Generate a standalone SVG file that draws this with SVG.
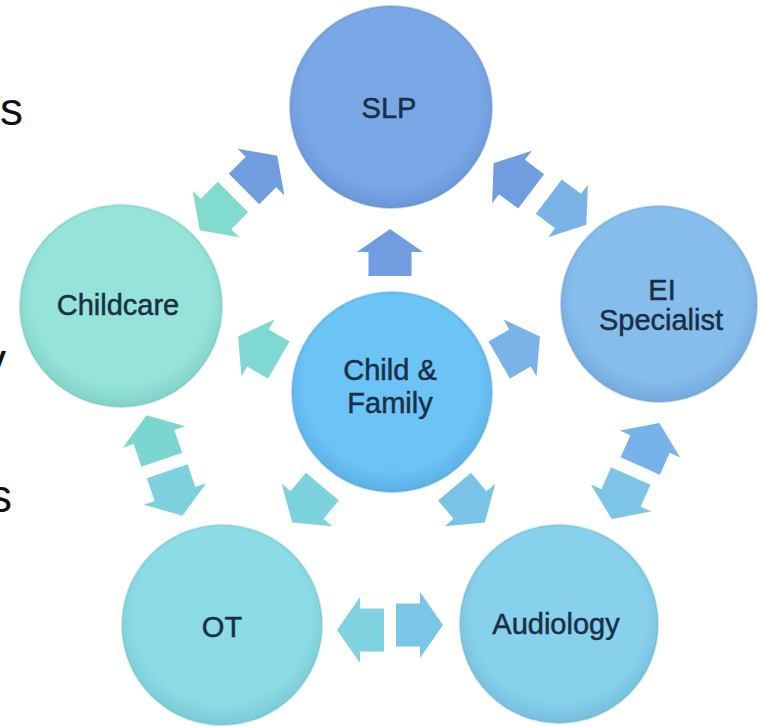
<svg xmlns="http://www.w3.org/2000/svg" xmlns:xlink="http://www.w3.org/1999/xlink" width="760" height="727" viewBox="0 0 760 727">
<style>
.lbl{font-family:"Liberation Sans",Arial,sans-serif;font-size:29px;fill:#1a2f45;stroke:#1a2f45;stroke-width:0.5;text-anchor:middle}
.side{font-family:"Liberation Sans",Arial,sans-serif;font-size:46px;fill:#111;text-anchor:end}
.rim{stroke-width:2;stroke-opacity:0.35}
</style>
<defs>
<path id="arr" d="M-24,-21.5 L0,-21.5 L0,-33 L23,0 L0,33 L0,21.5 L-24,21.5 Z"/>
<radialGradient id="gSLP" cx="50%" cy="45%" r="55%"><stop offset="0.8" stop-color="#7aa8e6"/><stop offset="1" stop-color="#6a97d8"/></radialGradient>
<radialGradient id="gEI" cx="50%" cy="45%" r="55%"><stop offset="0.8" stop-color="#85bdec"/><stop offset="1" stop-color="#74aade"/></radialGradient>
<radialGradient id="gCF" cx="50%" cy="45%" r="55%"><stop offset="0.8" stop-color="#6cc3f6"/><stop offset="1" stop-color="#5cb0e6"/></radialGradient>
<radialGradient id="gCC" cx="50%" cy="45%" r="55%"><stop offset="0.8" stop-color="#95e3d9"/><stop offset="1" stop-color="#82d2c9"/></radialGradient>
<radialGradient id="gOT" cx="50%" cy="45%" r="55%"><stop offset="0.8" stop-color="#8cdce5"/><stop offset="1" stop-color="#79cbd6"/></radialGradient>
<radialGradient id="gAU" cx="50%" cy="45%" r="55%"><stop offset="0.8" stop-color="#88d1ec"/><stop offset="1" stop-color="#76bfdd"/></radialGradient>
</defs>
<rect width="760" height="727" fill="#ffffff"/>
<text class="side" x="23" y="125">s</text>
<text class="side" x="6" y="376">y</text>
<text class="side" x="12" y="512">s</text>
<g id="connectors">
<use xlink:href="#arr" transform="translate(261,172) rotate(-45)" fill="#6f9de0"/>
<use xlink:href="#arr" transform="translate(216,214) rotate(135)" fill="#80dccf"/>
<use xlink:href="#arr" transform="translate(512,177) rotate(217)" fill="#6f9de0"/>
<use xlink:href="#arr" transform="translate(568,211) rotate(37)" fill="#79b3e8"/>
<use xlink:href="#arr" transform="translate(154,437) rotate(-109)" fill="#7bd6cf"/>
<use xlink:href="#arr" transform="translate(175,494) rotate(71)" fill="#7dd1de"/>
<use xlink:href="#arr" transform="translate(360,630) rotate(180)" fill="#7fd3e0"/>
<use xlink:href="#arr" transform="translate(420,625) rotate(0)" fill="#7ac6e6"/>
<use xlink:href="#arr" transform="translate(258,348) rotate(210)" fill="#80d8d5"/>
<use xlink:href="#arr" transform="translate(390,252) rotate(-90)" fill="#6f9de0"/>
<use xlink:href="#arr" transform="translate(520,348) rotate(-30)" fill="#79b3e8"/>
<use xlink:href="#arr" transform="translate(307,505) rotate(130)" fill="#7dd3dd"/>
<use xlink:href="#arr" transform="translate(470,505) rotate(50)" fill="#78c3e6"/>
<use xlink:href="#arr" transform="translate(650,444) rotate(-66)" fill="#77b2e8"/>
<use xlink:href="#arr" transform="translate(621,498) rotate(114)" fill="#7cc5e6"/>
</g>
<g id="slp"><circle cx="391" cy="107" r="101" fill="url(#gSLP)" class="rim" stroke="#4f7fc4"/><text class="lbl" x="389" y="118">SLP</text></g>
<g id="childcare"><circle cx="121" cy="306" r="101" fill="url(#gCC)" class="rim" stroke="#5fb8ae"/><text class="lbl" x="118" y="315">Childcare</text></g>
<g id="ei"><circle cx="659" cy="304" r="98" fill="url(#gEI)" class="rim" stroke="#5a93cc"/><text class="lbl" x="662" y="300">EI</text><text class="lbl" x="661" y="330">Specialist</text></g>
<g id="childfamily"><circle cx="392" cy="392" r="100" fill="url(#gCF)" class="rim" stroke="#3f9bd6"/><text class="lbl" x="390" y="380">Child &amp;</text><text class="lbl" x="390" y="413">Family</text></g>
<g id="ot"><circle cx="222" cy="625" r="100" fill="url(#gOT)" class="rim" stroke="#5fb6c2"/><text class="lbl" x="222" y="637">OT</text></g>
<g id="audiology"><circle cx="559" cy="624" r="99" fill="url(#gAU)" class="rim" stroke="#5aa8cc"/><text class="lbl" x="556" y="634">Audiology</text></g>
</svg>
